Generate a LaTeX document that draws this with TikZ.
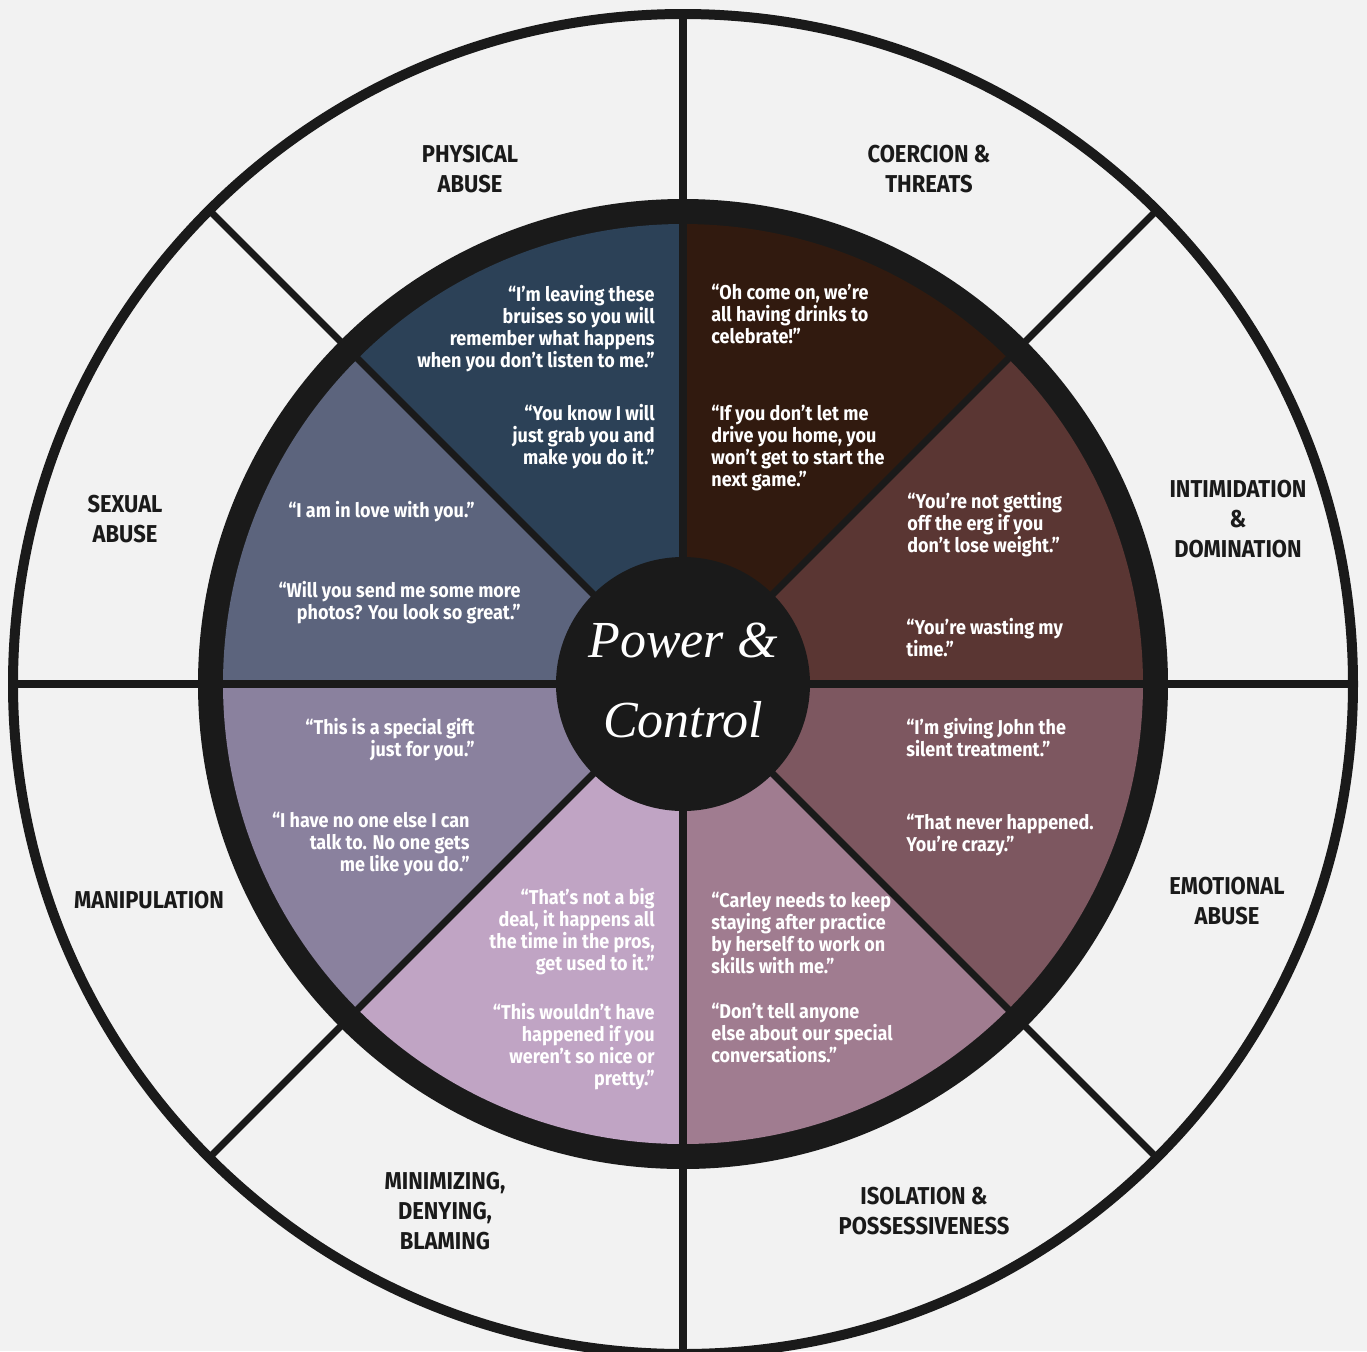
\documentclass[tikz,border=0pt]{standalone}
\usepackage{fontspec}
\setmainfont{Fira Sans}[FakeStretch=0.9]
\newfontfamily\pcfont{Liberation Serif}
\definecolor{bgc}{HTML}{F2F2F2}
\definecolor{ink}{HTML}{1A1A1A}
\definecolor{wA}{HTML}{2C4157}
\definecolor{wB}{HTML}{311A0F}
\definecolor{wC}{HTML}{5A3633}
\definecolor{wD}{HTML}{7D5760}
\definecolor{wE}{HTML}{A07C90}
\definecolor{wF}{HTML}{C0A4C4}
\definecolor{wG}{HTML}{8A819E}
\definecolor{wH}{HTML}{5C647D}
\begin{document}
\begin{tikzpicture}[x=0.5pt,y=-0.5pt,
  quoteR/.style={text=white, font=\bfseries\fontsize{10}{11}\selectfont, inner sep=0pt, align=right, anchor=north east},
  quoteL/.style={text=white, font=\bfseries\fontsize{10}{11}\selectfont, inner sep=0pt, align=left, anchor=north west},
  lab/.style={text=ink, font=\bfseries\fontsize{12.2}{15}\selectfont, inner sep=0pt, align=center},
  axis/.style={draw=ink, line width=4pt},
  diag/.style={draw=ink, line width=3.5pt}]
\fill[bgc] (0,0) rectangle (1367,1351);
\useasboundingbox (0,0) rectangle (1367,1351);
\clip (0,0) rectangle (1367,1351);
\begin{scope}[shift={(683,684)}]
  \coordinate (O) at (0,0);
  \fill[ink] (O) circle (485);
  \begin{scope}
    \clip (O) circle (460);
    \fill[wA] (O) -- (-135:700) -- (-90:700) -- cycle;
    \fill[wB] (O) -- (-90:700) -- (-45:700) -- cycle;
    \fill[wC] (O) -- (-45:700) -- (0:700) -- cycle;
    \fill[wD] (O) -- (0:700) -- (45:700) -- cycle;
    \fill[wE] (O) -- (45:700) -- (90:700) -- cycle;
    \fill[wF] (O) -- (90:700) -- (135:700) -- cycle;
    \fill[wG] (O) -- (135:700) -- (180:700) -- cycle;
    \fill[wH] (O) -- (180:700) -- (225:700) -- cycle;
  \end{scope}
  \foreach \a in {0,90,180,270} \coordinate (s\a) at (\a:670);
  \foreach \a in {45,135,225,315} \coordinate (s\a) at (\a:670);
  \foreach \a in {0,90,180,270} \draw[axis] (O) -- (s\a);
  \foreach \a in {45,135,225,315} \draw[diag] (O) -- (s\a);
  \draw[ink, line width=5pt] (O) circle (670);
  \fill[ink] (O) circle (127);
\end{scope}

\node[text=white, font=\pcfont\itshape\fontsize{26}{32}\selectfont] (pc1) at (683,640) {Power \&};
\node[text=white, font=\pcfont\itshape\fontsize{26}{32}\selectfont] (pc2) at (683,720) {Control};

\node[lab] (l1) at (470,169) {PHYSICAL\\ABUSE};
\node[lab] (l2) at (929,169) {COERCION \&\\THREATS};
\node[lab] (l3) at (1238,519) {INTIMIDATION\\\&\\DOMINATION};
\node[lab] (l4) at (125,519) {SEXUAL\\ABUSE};
\node[lab] (l5) at (149,900) {MANIPULATION};
\node[lab] (l6) at (1227,901) {EMOTIONAL\\ABUSE};
\node[lab] (l7) at (445,1211) {MINIMIZING,\\DENYING,\\BLAMING};
\node[lab] (l8) at (924,1211) {ISOLATION \&\\POSSESSIVENESS};

\node[quoteR] (q1) at (655,285) {“I’m leaving these\\bruises so you will\\remember what happens\\when you don’t listen to me.”};
\node[quoteR] (q2) at (655,404) {“You know I will\\just grab you and\\make you do it.”};
\node[quoteL] (q3) at (711,284) {“Oh come on, we’re\\all having drinks to\\celebrate!”};
\node[quoteL] (q4) at (711,405) {“If you don’t let me\\drive you home, you\\won’t get to start the\\next game.”};
\node[quoteL] (q5) at (907,492) {“You’re not getting\\off the erg if you\\don’t lose weight.”};
\node[quoteL] (q6) at (906,618) {“You’re wasting my\\time.”};
\node[quoteL] (q7) at (906,718) {“I’m giving John the\\silent treatment.”};
\node[quoteL] (q8) at (906,814) {“That never happened.\\You’re crazy.”};
\node[quoteL] (q9) at (711,892) {“Carley needs to keep\\staying after practice\\by herself to work on\\skills with me.”};
\node[quoteL] (q10) at (711,1003) {“Don’t tell anyone\\else about our special\\conversations.”};
\node[quoteR] (q11) at (655,888) {“That’s not a big\\deal, it happens all\\the time in the pros,\\get used to it.”};
\node[quoteR] (q12) at (655,1003) {“This wouldn’t have\\happened if you\\weren’t so nice or\\pretty.”};
\node[quoteR] (q13) at (475,718) {“This is a special gift\\just for you.”};
\node[quoteR] (q14) at (470,812) {“I have no one else I can\\talk to. No one gets\\me like you do.”};
\node[quoteR] (q15) at (475,501) {“I am in love with you.”};
\node[quoteR] (q16) at (521,581) {“Will you send me some more\\photos? You look so great.”};
\end{tikzpicture}
\end{document}
